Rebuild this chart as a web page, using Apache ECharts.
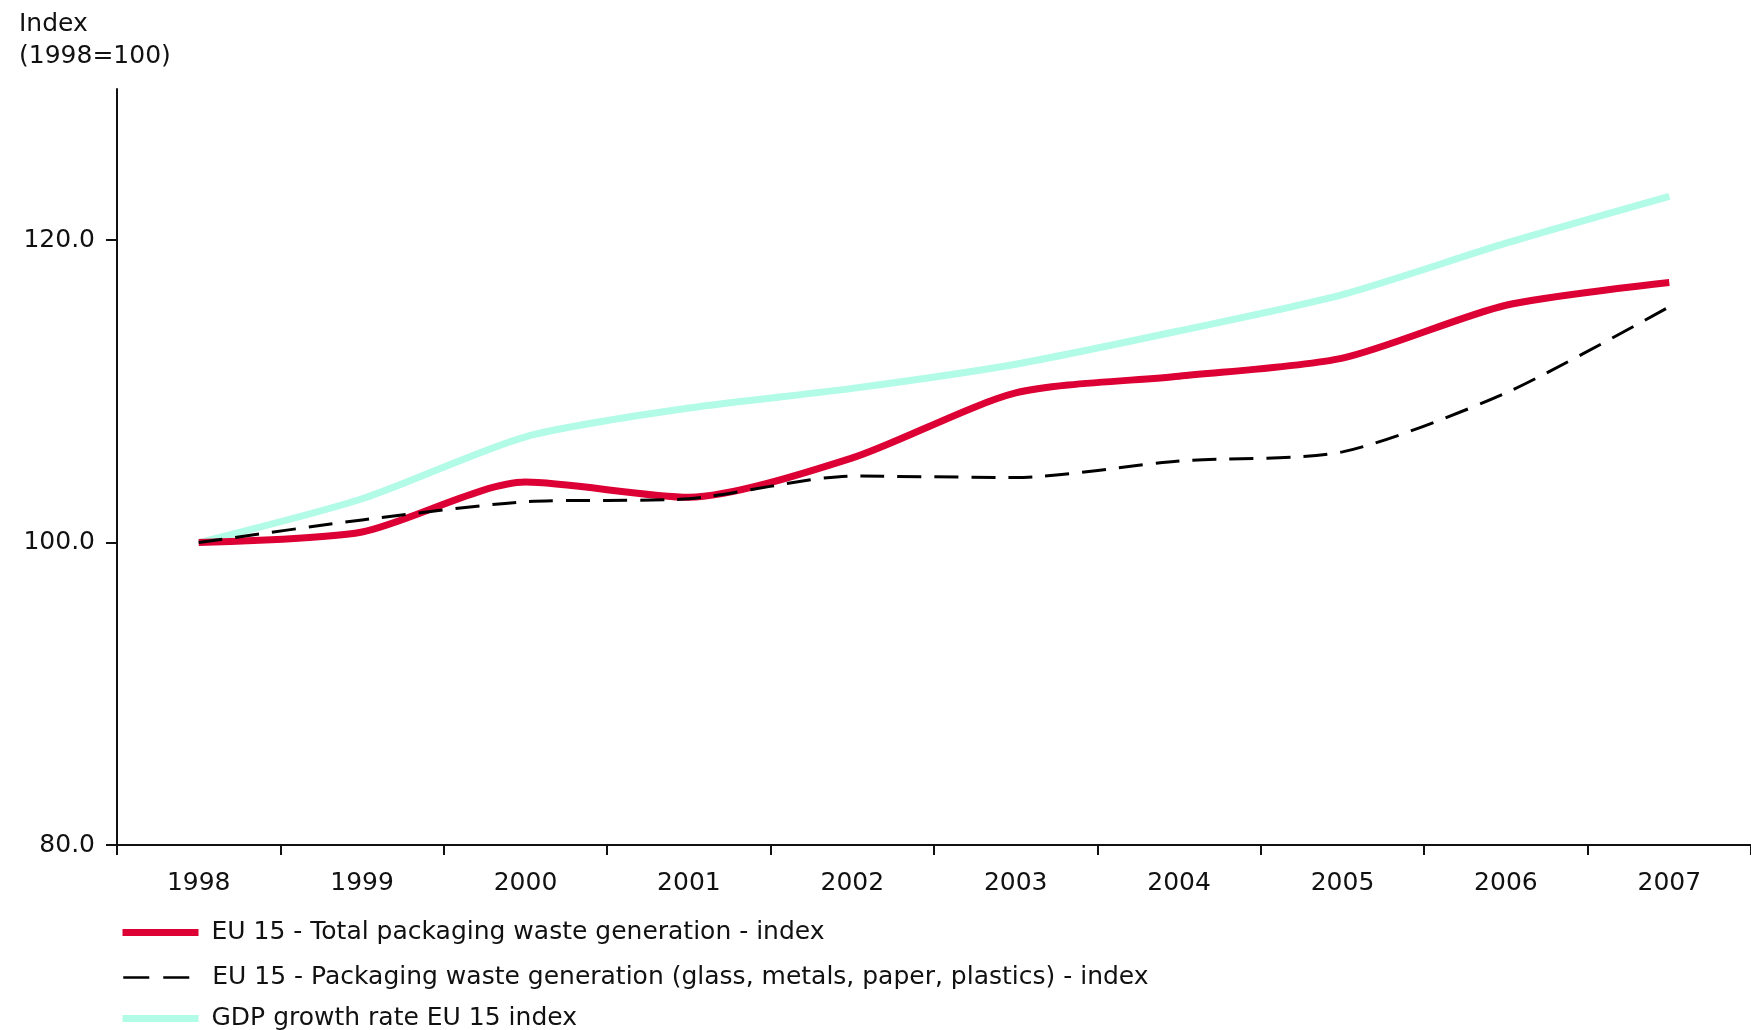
<!DOCTYPE html>
<html>
<head>
<meta charset="utf-8">
<script src="https://cdn.jsdelivr.net/npm/echarts@6/dist/echarts.min.js"></script>
<style>
html,body{margin:0;padding:0;background:#fff;}
#chart{width:1751px;height:1030px;}
</style>
</head>
<body>
<div id="chart"></div>
<script>
const years = ['1998','1999','2000','2001','2002','2003','2004','2005','2006','2007'];
const totalPackaging = [100, 100.7, 104.0, 103.0, 105.6, 109.9, 111.0, 112.2, 115.7, 117.2];
const materialPackaging = [100, 101.5, 102.7, 102.9, 104.4, 104.3, 105.4, 106.0, 109.9, 115.6];
const gdpIndex = [100, 102.9, 107.0, 108.9, 110.2, 111.8, 114.0, 116.4, 119.8, 122.9];
const yTicks = [80, 100, 120];

const nameTotal = 'EU 15 - Total packaging waste generation - index';
const nameMaterial = 'EU 15 - Packaging waste generation (glass, metals, paper, plastics) - index';
const nameGdp = 'GDP growth rate EU 15 index';

const FONT = 'DejaVu Sans';
const FS = 25;
const RED = '#dc0035';
const CYAN = '#b2fbe6';

function legendRow(name, top, left, lineStyle) {
  return {
    orient: 'vertical',
    left: left, top: top,
    itemWidth: 76, itemHeight: 20,
    textStyle: {fontFamily: FONT, fontSize: FS, color: '#111', padding: [0,0,0,8]},
    itemStyle: {color: 'transparent', borderColor: 'transparent', borderWidth: 0},
    selectedMode: false,
    data: [{name: name, lineStyle: lineStyle}]
  };
}

const chart = echarts.init(document.getElementById('chart'), null, {renderer: 'canvas'});
chart.setOption({
  animation: false,
  backgroundColor: '#ffffff',
  textStyle: {fontFamily: FONT, color: '#111'},
  title: {
    text: 'Index\n(1998=100)',
    left: 14, top: 3,
    textStyle: {fontFamily: FONT, fontSize: FS, fontWeight: 'normal', color: '#111', lineHeight: 32}
  },
  grid: {left: 117, right: -8, top: 89, bottom: 185, containLabel: false},
  xAxis: {
    type: 'category',
    data: years,
    boundaryGap: true,
    axisLine: {lineStyle: {color: '#111', width: 2}},
    axisTick: {show: true, length: 10, lineStyle: {color: '#111', width: 2}},
    axisLabel: {fontFamily: FONT, fontSize: FS, color: '#111', margin: 26}
  },
  yAxis: {
    type: 'value',
    min: 80, max: 130,
    splitLine: {show: false},
    axisLine: {show: true, lineStyle: {color: '#111', width: 2}},
    axisTick: {show: true, length: 11, customValues: yTicks, lineStyle: {color: '#111', width: 2}},
    axisLabel: {
      fontFamily: FONT, fontSize: FS, color: '#111', margin: 22,
      customValues: yTicks,
      formatter: v => v.toFixed(1)
    }
  },
  legend: [
    legendRow(nameTotal, 915, 114, {color: RED, width: 7, type: 'solid'}),
    legendRow(nameMaterial, 960, 117, {color: '#000', width: 2.5, type: [26, 14]}),
    legendRow(nameGdp, 1001, 114, {color: CYAN, width: 7, type: 'solid'})
  ],
  series: [
    {
      name: nameGdp, type: 'line', data: gdpIndex, symbol: 'none', smooth: 0.25, z: 2,
      lineStyle: {color: CYAN, width: 7}, itemStyle: {color: CYAN}
    },
    {
      name: nameTotal, type: 'line', data: totalPackaging, symbol: 'none', smooth: 0.25, z: 3,
      lineStyle: {color: RED, width: 7}, itemStyle: {color: RED}
    },
    {
      name: nameMaterial, type: 'line', data: materialPackaging, symbol: 'none', smooth: 0.25, z: 4,
      lineStyle: {color: '#000', width: 3, type: [24, 13]}, itemStyle: {color: '#000'}
    }
  ]
});
</script>
</body>
</html>
